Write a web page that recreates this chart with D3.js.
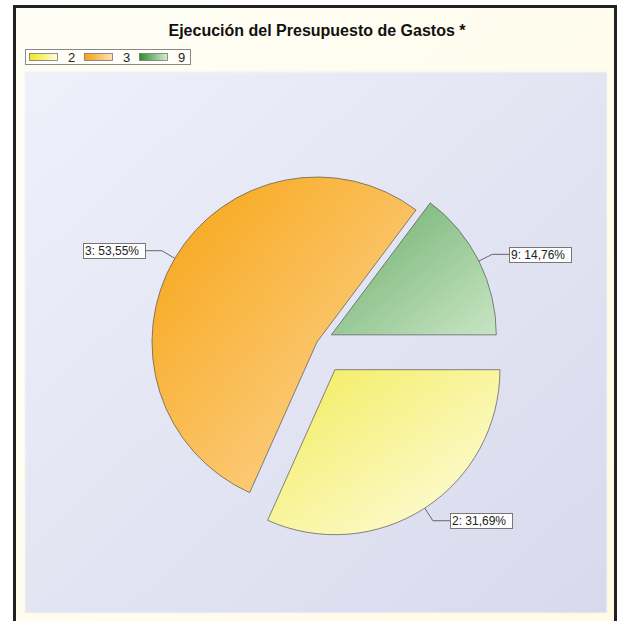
<!DOCTYPE html>
<html>
<head>
<meta charset="utf-8">
<script src="https://cdn.jsdelivr.net/npm/d3@7"></script>
<style>
  html, body { margin: 0; padding: 0; background: #fff; }
  svg { display: block; font-family: "Liberation Sans", Arial, sans-serif; }
</style>
</head>
<body>
<svg width="620" height="621"></svg>
<script>
const categories = ["2", "3", "9"];
const values = [31.69, 53.55, 14.76];
const titleText = "Ejecución del Presupuesto de Gastos *";

// colours per category: [dark (top-left), light (bottom-right)]
const sliceColors = [["#f3ec5a", "#fefde6"], ["#f7a412", "#fdd9a0"], ["#6aad6a", "#c8e5c4"]];
const legendColors = [["#efe81c", "#fffde0"], ["#f6a010", "#fde2b8"], ["#2f8a30", "#d6ecd4"]];
const explode = [33, 0, 16];

const svg = d3.select("svg");
const defs = svg.append("defs");

function grad(id, c0, c1, x2, y2) {
  const g = defs.append("linearGradient").attr("id", id)
    .attr("x1", 0).attr("y1", 0).attr("x2", x2).attr("y2", y2);
  g.append("stop").attr("offset", "0%").attr("stop-color", c0);
  g.append("stop").attr("offset", "100%").attr("stop-color", c1);
}
grad("frameGrad", "#fffef6", "#fffbe4", 1, 1);
grad("plotGrad", "#eef0fa", "#d8d9ec", 1, 1);
sliceColors.forEach((c, i) => grad("slice" + i, c[0], c[1], 1, 1));
legendColors.forEach((c, i) => grad("leg" + i, c[0], c[1], 1, 0));

// frame
svg.append("rect")
  .attr("x", 14.5).attr("y", 6.5).attr("width", 601).attr("height", 630)
  .attr("fill", "url(#frameGrad)")
  .attr("stroke", "#222").attr("stroke-width", 3);

// plot area
svg.append("rect")
  .attr("x", 25).attr("y", 72).attr("width", 582).attr("height", 541)
  .attr("fill", "url(#plotGrad)")
  .attr("stroke", "#f4f4f8").attr("stroke-width", 1);

// title
svg.append("text")
  .attr("x", 317).attr("y", 36)
  .attr("text-anchor", "middle")
  .attr("font-size", 16).attr("font-weight", "bold")
  .attr("fill", "#111")
  .text(titleText);

// legend
const legend = svg.append("g");
legend.append("rect")
  .attr("x", 25.5).attr("y", 49.5).attr("width", 165).attr("height", 15)
  .attr("fill", "#fffef8").attr("stroke", "#888");
const legX = d3.scalePoint().domain(categories).range([29, 139]);
categories.forEach((c, i) => {
  legend.append("rect")
    .attr("x", legX(c) + 0.5).attr("y", 53.5).attr("width", 28).attr("height", 7)
    .attr("fill", "url(#leg" + i + ")").attr("stroke", "#777").attr("stroke-width", 0.8);
  legend.append("text")
    .attr("x", legX(c) + 39).attr("y", 62)
    .attr("font-size", 13).attr("fill", "#222")
    .text(c);
});

// pie
const cx = 317, cy = 342, r = 165;
const pie = d3.pie().sort(null)
  .startAngle(Math.PI / 2).endAngle(Math.PI / 2 + 2 * Math.PI);
const arcs = pie(values);
const arc = d3.arc().innerRadius(0).outerRadius(r);

const fmt = v => d3.format(".2f")(v).replace(".", ",");

const g = svg.append("g").attr("transform", `translate(${cx},${cy})`);

arcs.forEach((a, i) => {
  const mid = (a.startAngle + a.endAngle) / 2;
  const ox = Math.sin(mid) * explode[i];
  const oy = -Math.cos(mid) * explode[i];
  const sg = g.append("g").attr("transform", `translate(${ox},${oy})`);
  sg.append("path")
    .attr("d", arc(a))
    .attr("fill", "url(#slice" + i + ")")
    .attr("stroke", "#555").attr("stroke-width", 0.7);
});

// labels with leader lines
arcs.forEach((a, i) => {
  const mid = (a.startAngle + a.endAngle) / 2;
  const dx = Math.sin(mid), dy = -Math.cos(mid);
  const ox = dx * explode[i], oy = dy * explode[i];
  const p0 = [ox + dx * r, oy + dy * r];
  const p1 = [ox + dx * (r + 15), oy + dy * (r + 15)];
  const side = dx >= 0 ? 1 : -1;
  const p2 = [p1[0] + side * 17, p1[1]];
  g.append("polyline")
    .attr("points", [p0, p1, p2].map(p => p.join(",")).join(" "))
    .attr("fill", "none").attr("stroke", "#666").attr("stroke-width", 1);
  const label = categories[i] + ": " + fmt(values[i]) + "%";
  const w = 62, h = 15;
  const bx = side > 0 ? p2[0] : p2[0] - w;
  const lg = g.append("g");
  lg.append("rect")
    .attr("x", Math.round(bx) + 0.5).attr("y", Math.round(p2[1] - h / 2) + 0.5)
    .attr("width", w).attr("height", h)
    .attr("fill", "#fff").attr("stroke", "#777");
  lg.append("text")
    .attr("x", Math.round(bx) + 2).attr("y", Math.round(p2[1] - h / 2) + 12)
    .attr("font-size", 12).attr("fill", "#222")
    .text(label);
});
</script>
</body>
</html>
